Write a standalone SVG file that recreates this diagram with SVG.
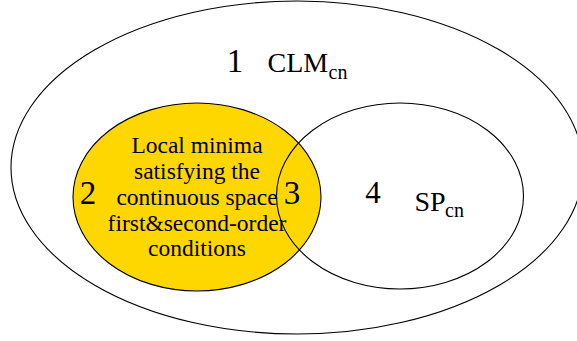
<svg xmlns="http://www.w3.org/2000/svg" width="577" height="341" viewBox="0 0 577 341">
<style>
.sh{stroke:#000;stroke-width:1.1}
text{fill:#000}
.num{font-size:33px;text-anchor:middle}
.lbl{font-size:28px}
.sub{font-size:20px}
.body{font-size:23.5px;text-anchor:middle}
</style>
<rect width="577" height="341" fill="#fff"/>
<g font-family="'Liberation Serif', 'DejaVu Serif', serif">
<g id="clm">
<ellipse class="sh" cx="297" cy="167.5" rx="286" ry="166.5" fill="#fff"/>
<text class="num" x="235" y="72">1</text>
<text class="lbl" x="267.5" y="72">CLM</text>
<text class="sub" x="328.5" y="78.5">cn</text>
</g>
<g id="local-minima">
<ellipse class="sh" cx="197" cy="197" rx="124" ry="94" fill="#FFD700"/>
<text class="num" x="88" y="204">2</text>
<text class="body" x="197" y="153">Local minima</text>
<text class="body" x="197" y="178.8">satisfying the</text>
<text class="body" x="197" y="204.6">continuous space</text>
<text class="body" x="197" y="230.5">first&amp;second-order</text>
<text class="body" x="197" y="256.3">conditions</text>
</g>
<g id="sp">
<ellipse class="sh" cx="400" cy="196" rx="123.5" ry="93" fill="none"/>
<text class="num" x="292" y="204">3</text>
<text class="num" x="373" y="203" style="font-size:31px">4</text>
<text class="lbl" x="414.5" y="210.7">SP</text>
<text class="sub" x="445" y="217.3">cn</text>
</g>
<g id="connectors"></g>
</g>
</svg>
